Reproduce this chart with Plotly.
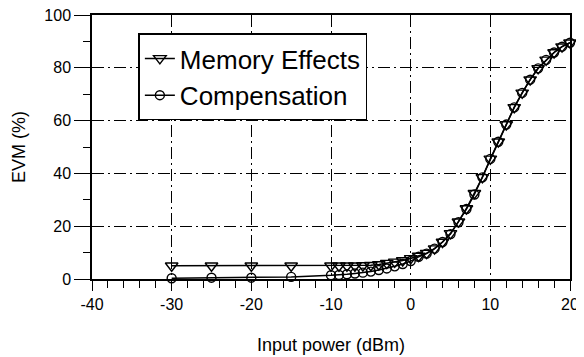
import plotly.graph_objects as go

# Input power (dBm)
x_vals = [-30, -25, -20, -15, -10, -9, -8, -7, -6, -5, -4, -3, -2, -1, 0,
          1, 2, 3, 4, 5, 6, 7, 8, 9, 10, 11, 12, 13, 14, 15, 16, 17, 18, 19, 20]

# EVM (%) with memory effects
memory_effects = [5.0, 5.0, 5.0, 5.0, 5.0, 5.0, 5.0, 5.0, 5.1, 5.2, 5.5, 6.0, 6.5, 7.0, 7.8,
                  8.7, 9.8, 11.5, 14.0, 17.3, 21.7, 26.7, 32.5, 38.5, 45.5, 52.0, 58.5, 65.0,
                  70.5, 75.5, 79.8, 83.0, 85.8, 88.0, 89.5]

# EVM (%) after compensation
compensation = [0.3, 0.5, 0.5, 0.8, 1.4, 1.5, 1.8, 2.1, 2.4, 2.8, 3.4, 4.0, 4.8, 5.7, 6.8,
                8.4, 9.6, 11.5, 14.0, 17.0, 21.5, 26.5, 32.0, 38.5, 45.5, 52.0, 58.5, 65.0,
                70.5, 75.5, 79.8, 83.0, 85.8, 88.0, 89.5]

# Tick labels
x_tick_vals = [-40, -30, -20, -10, 0, 10, 20]
x_tick_text = ["-40", "-30", "-20", "-10", "0", "10", "20"]
y_tick_vals = [0, 20, 40, 60, 80, 100]
y_tick_text = ["0", "20", "40", "60", "80", "100"]

FONT = "Liberation Sans, Arial, sans-serif"

fig = go.Figure()
fig.add_trace(go.Scatter(
    x=x_vals, y=memory_effects, name="Memory Effects", mode="lines+markers",
    line=dict(color="black", width=1.5),
    marker=dict(symbol="triangle-down-open", size=11, color="black", line=dict(width=1.4)),
    cliponaxis=False,
))
fig.add_trace(go.Scatter(
    x=x_vals, y=compensation, name="Compensation", mode="lines+markers",
    line=dict(color="black", width=1.5),
    marker=dict(symbol="circle-open", size=9, color="black", line=dict(width=1.4)),
    cliponaxis=False,
))

grid_dash = "12px,4px,2px,4px"

# The page body adds an 8px offset, so the figure is sized to fit the window.
fig.update_layout(
    width=576, height=349,
    margin=dict(l=84, r=14, t=7, b=78, autoexpand=False),
    paper_bgcolor="white", plot_bgcolor="white",
    font=dict(family=FONT, color="black"),
    showlegend=True,
    legend=dict(
        x=0.097, y=0.93, xanchor="left", yanchor="top",
        bgcolor="white", bordercolor="black", borderwidth=1.5,
        font=dict(size=26, family=FONT, color="black"),
        tracegroupgap=0, itemsizing="trace",
    ),
    xaxis=dict(
        range=[-40, 20], tickvals=x_tick_vals, ticktext=x_tick_text,
        showline=True, linecolor="black", linewidth=1.5, mirror=True,
        ticks="outside", ticklen=10, tickwidth=1.3, tickcolor="black",
        showgrid=True, gridcolor="black", gridwidth=1, griddash=grid_dash,
        zeroline=False, automargin=False, ticklabeloverflow="allow",
        minor=dict(dtick=2, tick0=0, ticks="outside", ticklen=7, tickwidth=1.2, tickcolor="black", showgrid=False),
        tickfont=dict(size=16, family=FONT, color="black"),
    ),
    yaxis=dict(
        range=[0, 100], tickvals=y_tick_vals, ticktext=y_tick_text,
        showline=True, linecolor="black", linewidth=1.5, mirror=True,
        ticks="outside", ticklen=16, tickwidth=1.3, tickcolor="black",
        showgrid=True, gridcolor="black", gridwidth=1, griddash=grid_dash,
        zeroline=False, automargin=False, ticklabeloverflow="allow",
        minor=dict(dtick=10, tick0=0, ticks="outside", ticklen=7, tickwidth=1.2, tickcolor="black", showgrid=False),
        tickfont=dict(size=16, family=FONT, color="black"),
    ),
    annotations=[
        dict(text="Input power (dBm)", xref="paper", yref="paper", x=0.5, y=0,
             xanchor="center", yanchor="middle", yshift=-66, showarrow=False,
             font=dict(size=18, family=FONT, color="black")),
        dict(text="EVM (%)", xref="paper", yref="paper", x=0, y=0.5,
             xanchor="center", yanchor="middle", xshift=-73, textangle=-90, showarrow=False,
             font=dict(size=18, family=FONT, color="black")),
    ],
)

fig.write_html("out.html")
